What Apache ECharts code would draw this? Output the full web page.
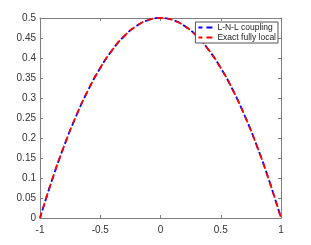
<!DOCTYPE html>
<html><head><meta charset="utf-8">
<script src="https://cdn.jsdelivr.net/npm/echarts@6/dist/echarts.min.js"></script>
<style>html,body{margin:0;padding:0;background:#fff}#c{width:311px;height:245px}</style>
</head><body><div id="c"></div>
<script>
const xs = [-1,-0.9,-0.8,-0.7,-0.6,-0.5,-0.4,-0.3,-0.2,-0.1,0,0.1,0.2,0.3,0.4,0.5,0.6,0.7,0.8,0.9,1];
const lnl = [0,0.095,0.18,0.255,0.32,0.375,0.42,0.455,0.48,0.495,0.5,0.495,0.48,0.455,0.42,0.375,0.32,0.255,0.18,0.095,0];
const exact = [0,0.095,0.18,0.255,0.32,0.375,0.42,0.455,0.48,0.495,0.5,0.495,0.48,0.455,0.42,0.375,0.32,0.255,0.18,0.095,0];
const names = ['L-N-L coupling','Exact fully local'];
const xTicks = [-1,-0.5,0,0.5,1];
const yTicks = [0,0.05,0.1,0.15,0.2,0.25,0.3,0.35,0.4,0.45,0.5];

const axisColor = '#7f7f7f';
const font = 'Liberation Sans, Arial, sans-serif';
function pair(a){return xs.map((x,i)=>[x,a[i]]);}
const baseX = {type:'value',min:-1,max:1,interval:0.5,
  axisLine:{show:true,onZero:false,lineStyle:{color:axisColor,width:1}},
  axisTick:{show:true,inside:true,length:3,lineStyle:{color:axisColor}},
  splitLine:{show:false}};
const baseY = {type:'value',min:0,max:0.5,interval:0.05,
  axisLine:{show:true,onZero:false,lineStyle:{color:axisColor,width:1}},
  axisTick:{show:true,inside:true,length:3,lineStyle:{color:axisColor}},
  splitLine:{show:false}};
const chart = echarts.init(document.getElementById('c'));
chart.setOption({
  animation:false,
  grid:{left:40,right:30,top:18,bottom:27},
  xAxis:[
    Object.assign({},baseX,{position:'bottom',axisLabel:{color:'#333',fontSize:10,fontFamily:font,margin:7,formatter:v=>String(v)}}),
    Object.assign({},baseX,{position:'top',axisLabel:{show:false}})
  ],
  yAxis:[
    Object.assign({},baseY,{position:'left',axisLabel:{color:'#333',fontSize:10,fontFamily:font,margin:4,formatter:v=>String(+v.toFixed(2))}}),
    Object.assign({},baseY,{position:'right',axisLabel:{show:false}})
  ],
  legend:{right:33,top:22,orient:'vertical',itemWidth:15,itemHeight:8,itemGap:1,padding:[1,2,1,2],
    backgroundColor:'#fff',borderColor:'#555',borderWidth:1,borderRadius:0,
    itemStyle:{opacity:0},
    textStyle:{fontSize:8.5,fontFamily:font,color:'#222',padding:[0,0,0,-1]},
    data:names},
  series:[
    {name:names[0],type:'line',data:pair(lnl),smooth:0.5,showSymbol:false,symbol:'none',
      color:'#0000ff',lineStyle:{color:'#0000ff',width:1.8,type:[6,4],dashOffset:2}},
    {name:names[1],type:'line',data:pair(exact),smooth:0.5,showSymbol:false,symbol:'none',
      color:'#ff0000',lineStyle:{color:'#ff0000',width:1.8,type:[6,4]}}
  ]
});
</script></body></html>
